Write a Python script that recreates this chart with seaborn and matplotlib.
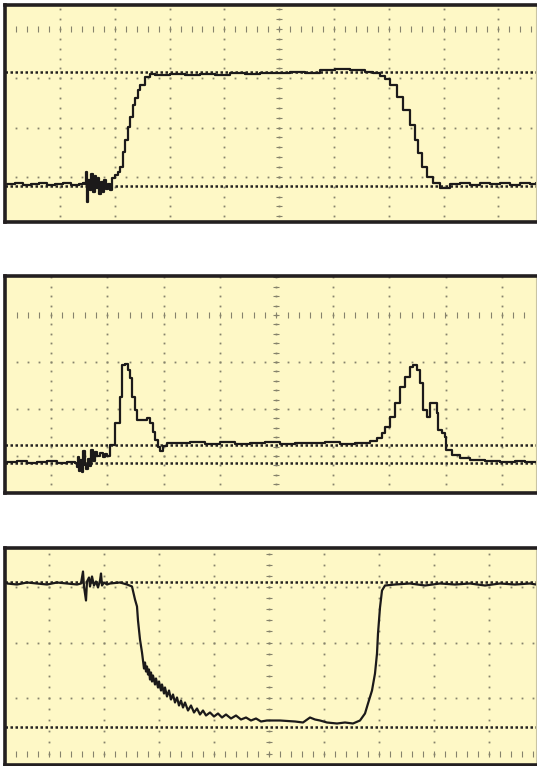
import numpy as np
import matplotlib
matplotlib.use("Agg")
import matplotlib.pyplot as plt
import seaborn as sns

# time in ns (55 ns per division), level in mV above the lower cursor

# Panel 1: output pulse
p1_t = [2, 10, 18, 26, 34, 42, 50, 58, 66, 74, 78, 80, 81, 82, 83, 85, 86, 88, 90, 91,
        93, 94, 96, 98, 99, 101, 103, 105, 107, 110, 113, 115, 118, 120, 123, 125, 128, 130, 133, 135,
        140, 145, 150, 165, 180, 195, 210, 225, 240, 255, 270, 285, 300, 315, 330, 345, 360, 368, 375, 380,
        385, 392, 398, 405, 410, 413, 417, 422, 428, 435, 445, 455, 465, 475, 485, 495, 505, 515, 525, 531]
p1_v = [2, 3, 1, 2, 3, 1, 2, 3, 1, 2, 3, 2, 14, -16, 6, -4, 12, -6, 10, -2,
        8, -8, 4, -6, 6, -3, 2, -4, 8, 11, 14, 19, 34, 46, 59, 69, 81, 88, 96, 101,
        109, 112, 111, 112, 111, 112, 111, 113, 112, 113, 113, 114, 113, 116, 117, 116, 114, 113, 110, 107,
        101, 89, 76, 61, 46, 33, 19, 9, 3, -2, 2, 3, 1, 3, 2, 3, 1, 3, 2, 3]

# Panel 2: current spikes at the edges
p2_t = [2, 12, 22, 32, 42, 52, 62, 70, 72, 73, 74, 75, 77, 78, 80, 81, 83, 85, 86, 88,
        90, 92, 95, 98, 100, 102, 105, 110, 115, 117, 120, 123, 125, 127, 130, 132, 137, 142, 145, 148,
        150, 153, 155, 158, 162, 170, 185, 200, 215, 230, 245, 260, 275, 290, 305, 320, 335, 350, 365, 372,
        377, 380, 385, 390, 395, 400, 405, 408, 412, 415, 418, 422, 425, 428, 432, 433, 437, 440, 441, 447,
        455, 465, 480, 495, 510, 520, 531]
p2_v = [1, 2, 0, 1, 2, 0, 1, 0, -4, 6, -8, 3, -9, 12, -2, -6, 4, -3, 13, 2,
        11, 7, 10, 6, 9, 7, 18, 40, 66, 98, 99, 93, 85, 66, 53, 43, 43, 45, 40, 31,
        23, 16, 12, 17, 20, 20, 21, 19, 21, 19, 20, 21, 19, 20, 20, 21, 19, 20, 22, 25,
        30, 36, 46, 60, 76, 86, 96, 98, 93, 80, 53, 46, 60, 60, 50, 33, 30, 26, 13, 8,
        5, 3, 2, 1, 2, 1, 1]

# Panel 3: inverted pulse with slow, noisy tail
p3_t = [2, 12, 22, 32, 42, 52, 62, 72,
        76, 78, 79, 81, 82, 84, 85, 87, 89, 91, 93, 95, 96, 97, 99, 102,
        105, 115, 122, 127,
        130, 132, 133, 135, 137, 138, 139, 140, 141, 142, 143, 144, 145, 146, 147, 148, 150, 151, 153, 154,
        156, 157, 159, 160, 162, 164, 166, 168, 170, 172, 174, 176, 178, 180, 183, 186, 189, 192, 195, 198,
        201, 205, 209, 213, 217, 221, 226, 231, 236, 241, 246, 251, 256, 262,
        275, 290, 298, 305, 310, 315, 322, 332, 340, 348, 355, 360, 363, 367, 370, 372, 373, 375, 377, 380,
        390, 405, 420, 435, 450, 465, 480, 495, 510, 525, 531]
p3_v = [143, 142, 144, 143, 142, 144, 143, 142,
        143, 155, 140, 126, 145, 149, 140, 150, 141, 145, 139, 146, 153, 141, 144, 142,
        143, 144, 142, 140,
        127, 120, 106, 87, 74, 66, 58, 64, 55, 60, 52, 57, 47, 54, 45, 51, 42, 48, 39, 45,
        36, 42, 33, 39, 30, 36, 27, 32, 24, 29, 21, 26, 19, 24, 16, 21, 14, 18, 12, 16,
        11, 14, 10, 13, 9, 12, 8, 11, 7, 9, 6, 8, 5, 6,
        6, 5, 4, 9, 7, 6, 4, 3, 4, 3, 6, 13, 23, 36, 53, 73, 93, 119, 136, 141,
        142, 143, 141, 143, 142, 143, 141, 143, 142, 143, 142]

W, H = 537, 766
BG = "#FEF8C6"
INK = "#1c1a1a"
DOT = "#86836c"

sns.set_style("white")
fig = plt.figure(figsize=(W / 100, H / 100), dpi=100, facecolor="white")

# panel boxes (pixel top/bottom), y limits, grid layout, cursors
panels = [
    dict(t=p1_t, v=p1_v, top=5.5, bot=222.5, ylim=(-36.5, 180.5), steps="steps-post",
         x0=55, dx=54.8, rows=[157, 107.7, 58.4, 9.1], dy=49.3, tick_row=157, cursors=[0, 114]),
    dict(t=p2_t, v=p2_v, top=276, bot=493, ylim=(-30, 187), steps="steps-post",
         x0=45.7, dx=56.4, rows=[148, 101, 54, 7], dy=47, tick_row=148, cursors=[0, 18.5]),
    dict(t=p3_t, v=p3_v, top=548, bot=764.5, ylim=(-38, 178.5), steps="default",
         x0=44, dx=55, rows=[139.5, 84, 28.5, -27], dy=55.5, tick_row=-27, cursors=[0, 145]),
]

for p in panels:
    ax = fig.add_axes([5 / W, 1 - p["bot"] / H, 531 / W, (p["bot"] - p["top"]) / H])
    ax.set_facecolor(BG)
    ax.set_xlim(0, 531)
    ax.set_ylim(*p["ylim"])
    ax.set_xticks([])
    ax.set_yticks([])

    vlines = [p["x0"] + p["dx"] * k for k in range(9)]
    minor_x = p["x0"] + p["dx"] / 5 * np.arange(-10, 50)
    minor_x = minor_x[(minor_x > 1) & (minor_x < 530)]
    minor_y = p["rows"][0] - p["dy"] / 5 * np.arange(-10, 40)
    minor_y = minor_y[(minor_y > p["ylim"][0] + 1) & (minor_y < p["ylim"][1] - 1)]

    # dotted graticule
    for r in p["rows"]:
        if r == p["tick_row"]:
            continue
        ax.plot(minor_x, np.full_like(minor_x, r), ls="none", marker="s", ms=1.3,
                mew=0, color=DOT)
    for x in vlines:
        ax.plot(np.full_like(minor_y, x), minor_y, ls="none", marker="s", ms=1.3,
                mew=0, color=DOT)
    # axis rows with minor ticks
    ax.plot(minor_x, np.full_like(minor_x, p["tick_row"]), ls="none", marker="|", ms=4,
            mew=0.8, color=DOT)
    ax.plot(np.full_like(minor_y, vlines[4]), minor_y, ls="none", marker="_", ms=4,
            mew=0.8, color=DOT)

    # cursors
    for c in p["cursors"]:
        ax.axhline(c, color="#242220", lw=1.8, ls=(0, (1, 1)))

    sns.lineplot(x=p["t"], y=p["v"], ax=ax, estimator=None, sort=False,
                 color=INK, lw=1.6, drawstyle=p["steps"])

    for side in ["top", "left", "bottom"]:
        ax.spines[side].set_linewidth(2.6)
        ax.spines[side].set_color("#231F20")
    ax.spines["right"].set_linewidth(0.8)
    ax.spines["right"].set_color("#C9C4A2")

fig.savefig("out.png", dpi=100, facecolor="white")
